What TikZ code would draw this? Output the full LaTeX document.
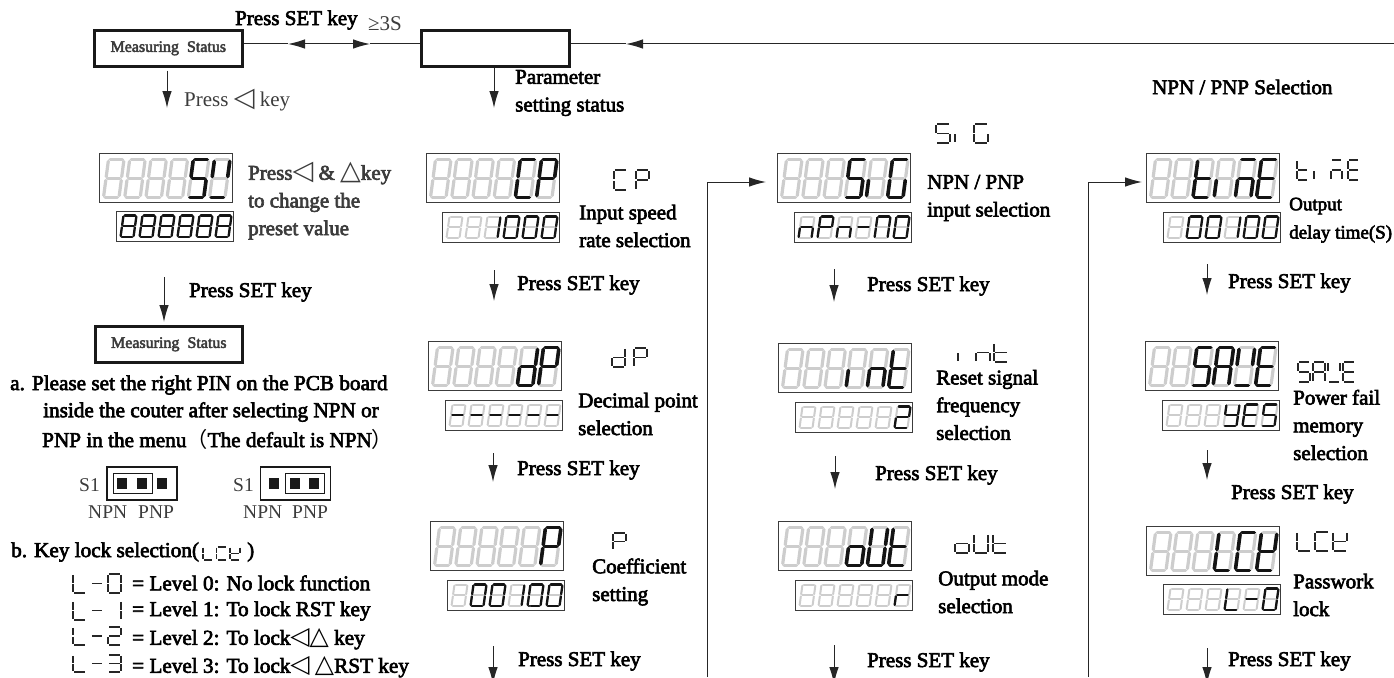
\documentclass[tikz,border=0pt]{standalone}
\usepackage{fontspec}
\usetikzlibrary{arrows.meta}
\setmainfont{Liberation Serif}
\newfontfamily\boldish[FakeBold=3]{Liberation Serif}
\newfontfamily\symfont{DejaVu Sans}
\newfontfamily\cjk{Noto Sans CJK SC}
\definecolor{segoff}{RGB}{205, 205, 205}
\definecolor{segon}{RGB}{20, 20, 20}
\definecolor{inkgray}{RGB}{60, 60, 60}
\tikzset{
    flow/.style={draw=black!85, line width=1pt, -{Latex[length=17pt,width=9.5pt]}},
    plain/.style={draw=black!85, line width=1pt},
    statebox/.style={draw=black!90, line width=2.6pt, minimum width=148pt, minimum height=36pt, inner sep=0pt, anchor=north west},
    bigbox/.style={draw=inkgray, line width=.9pt, minimum width=133pt, minimum height=49pt, inner sep=0pt, outer sep=0pt, anchor=north west},
    smallbox/.style={draw=inkgray, line width=.9pt, minimum width=117pt, minimum height=30pt, inner sep=0pt, outer sep=0pt, anchor=north west},
    txt/.style={inner sep=0pt, anchor=west, align=left, font=\fontsize{21}{27.7}\selectfont\boldish},
    txtgray/.style={txt, text=inkgray},
    note/.style={txt, font=\fontsize{21.2}{27}\selectfont\boldish},
    small/.style={inner sep=0pt, anchor=west, font=\fontsize{19}{22}\selectfont\boldish},
    plainlabel/.style={inner sep=0pt, anchor=west, text=inkgray, font=\fontsize{19.5}{22}\selectfont},
    statetext/.style={inner sep=0pt, text=inkgray, font=\fontsize{16}{18}\selectfont\boldish},
    pinsq/.style={fill=black!90, minimum width=10pt, minimum height=11pt, inner sep=0pt, outer sep=0pt},
    pinframe/.style={draw=black!90, line width=1.6pt, minimum width=70pt, minimum height=33pt, inner sep=0pt, outer sep=0pt},
    pinlink/.style={draw=black!90, line width=1pt, minimum width=39pt, minimum height=20pt, inner sep=0pt, outer sep=0pt},
}
% segments of one digit, unit square
\newcommand{\defseg}[5]{\expandafter\def\csname seg#1\endcsname{(#2,#3)--(#4,#5)}}
\defseg{a}{.1}{1}{.9}{1}
\defseg{b}{1}{.95}{1}{.55}
\defseg{c}{1}{.45}{1}{.05}
\defseg{d}{.1}{0}{.9}{0}
\defseg{e}{0}{.45}{0}{.05}
\defseg{f}{0}{.95}{0}{.55}
\defseg{g}{.1}{.5}{.9}{.5}
\def\segx{}
% glyphs
\def\dgx{x}       \def\dgm{g}        \def\dgall{a,b,c,d,e,f,g}
\def\dgz{a,b,c,d,e,f} \def\dgone{b,c} \def\dgtwo{a,b,g,e,d} \def\dgthree{a,b,g,c,d}
\def\dgS{a,f,g,c,d} \def\dgV{b,f,d}  \def\dgC{a,f,e,d}  \def\dgP{a,b,g,f,e}
\def\dgdd{b,c,d,e,g} \def\dgi{e}     \def\dgG{a,f,e,d,c} \def\dgn{e,g,c}
\def\dgt{f,g,e,d}  \def\dgo{g,e,c,d} \def\dgr{e,g}       \def\dgA{a,b,c,e,f,g}
\def\dgE{a,f,g,e,d} \def\dgM{a,g,e,c} \def\dgY{f,g,b,c,d} \def\dgL{f,e,d}
\def\dgN{a,b,c,e,f} \def\dgU{b,c,d,e,f} \def\dgk{f,b,g,e,d}
% x, bottom y, width, height, slant, glyph, style
\newcommand{\segdigit}[7]{%
    \edef\seglist{\csname dg#6\endcsname}%
    \begin{scope}[shift={(#1,#2)},x={(#3pt,0pt)},y={(#5pt,#4pt)}]
        \foreach \s in \seglist {\edef\segpath{\csname seg\s\endcsname}\draw[#7] \segpath;}
    \end{scope}%
}
\newcommand{\segrow}[8]{% x, bottom y, width, height, slant, pitch, off style, on style + list in \rowlist
    \foreach \g [count=\i from 0] in \rowlist {
        \pgfmathsetmacro{\digx}{#1+\i*#6}
        \segdigit{\digx}{#2}{#3}{#4}{#5}{all}{#7}
        \segdigit{\digx}{#2}{#3}{#4}{#5}{\g}{#8}
    }%
}
\newcommand{\bigdisp}[4]{% name, left, top, glyphs
    \node[bigbox] (#1) at (#2,#3) {};
    \def\rowlist{#4}
    \pgfmathsetmacro{\rowx}{#2+4.5}\pgfmathsetmacro{\rowy}{#3+44.5}
    \segrow{\rowx}{\rowy}{15.5}{38}{5}{21.2}{draw=segoff,line width=3.2pt,line cap=round}{draw=segon,line width=3.6pt,line cap=round}
}
\newcommand{\smalldisp}[4]{% name, left, top, glyphs
    \node[smallbox] (#1) at (#2,#3) {};
    \def\rowlist{#4}
    \pgfmathsetmacro{\rowx}{#2+4.5}\pgfmathsetmacro{\rowy}{#3+26}
    \segrow{\rowx}{\rowy}{13}{21.5}{3}{19}{draw=segoff,line width=2pt,line cap=round}{draw=segon,line width=2.3pt,line cap=round}
}
\newcommand{\seglabel}[6]{% x, bottom y, width, height, pitch, glyphs
    \foreach \g [count=\i from 0] in {#6} {
        \pgfmathsetmacro{\digx}{#1+\i*#5}
        \segdigit{\digx}{#2}{#3}{#4}{0}{\g}{draw=black!85,line width=1.8pt}
    }%
}
\newcommand{\lefttri}{{\symfont\fontsize{27}{24}\selectfont ◁}}
\newcommand{\uptri}{{\symfont\fontsize{27}{24}\selectfont △}}
\newcommand{\lefttrismall}{{\symfont\fontsize{25}{21}\selectfont ◁}}
\newcommand{\uptrismall}{{\symfont\fontsize{25}{21}\selectfont △}}

\begin{document}
\begin{tikzpicture}[x=1pt,y=-1pt]
    % Frame, reference size:
    \useasboundingbox (0,0) rectangle (1394,677);
    \clip (0,0) rectangle (1394,677);

    % state boxes
    \node[statebox] (measure) at (93,29) {};
    \node[statetext] at (measure.center) {Measuring\ \ Status};
    \node[statebox] (param) at (420,29) {};
    \node[statebox,minimum width=147pt] (measureb) at (94,325) {};
    \node[statetext] at (measureb.center) {Measuring\ \ Status};

    \coordinate (farright) at (1394,44);
    \coordinate (tipback) at (626,44);
    \coordinate (tipleft) at (288,44);
    \coordinate (tipright) at (370,44);
    \coordinate (tipmid) at (329,44);
    \draw[flow] (farright) -- (tipback);
    \draw[plain] (tipback) -- (tipback -| param.east);
    \draw[flow] (tipmid) -- (tipleft);
    \draw[flow] (tipmid) -- (tipright);
    \draw[plain] (tipleft -| measure.east) -- (tipleft);
    \draw[plain] (tipright) -- (tipright -| param.west);

    \node[txt] (presslong) at (235,20) {Press SET key};
    \node[plainlabel,font=\fontsize{21}{24}\selectfont] (threes) at (368,24) {≥3S};
    \node[txt] (paramlabel) at (515,93) {Parameter\\setting status};
    \node[txt] (selectlabel) at (1152,87) {NPN / PNP Selection};

    % left column
    \coordinate (mdown) at (167,108);
    \draw[flow] (mdown |- measure.south) ++(0,3) -- (mdown);
    \node[plainlabel,font=\fontsize{21}{24}\selectfont] (pressleft) at (184,100) {Press \lefttri{} key};
    \bigdisp{svbig}{99}{153}{x,x,x,x,S,V}
    \smalldisp{svsmall}{116}{211}{all,all,all,all,all,all}
    \node[txtgray] (presstext) at (248,201) {Press\lefttri{} \& \uptri{}key\\to change the\\preset value};
    \coordinate (svdown) at (164,322);
    \coordinate (svtop) at (164,277);
    \draw[flow] (svtop) -- (svdown);
    \node[txt] (svpress) at (189,292) {Press SET key};

    \node[note] (notea) at (10,385) {a. Please set the right PIN on the PCB board};
    \node[note] (noteb) at (43,412) {inside the couter after selecting NPN or};
    \node[note] (notec) at (42,439) {PNP in the menu{\cjk（}The default is NPN{\cjk）}};

    % jumpers
    \node[plainlabel] (sone) at (79,485) {S1};
    \node[pinframe] (pina) at (142,483.5) {};
    \node[pinlink] (linka) at (132.5,483) {};
    \node[pinsq] at (122,483.5) {};
    \node[pinsq] at (142,483.5) {};
    \node[pinsq] at (162,483.5) {};
    \node[plainlabel] (npna) at (88,512) {NPN};
    \node[plainlabel] (pnpa) at (138,512) {PNP};
    \node[plainlabel] (stwo) at (233,485) {S1};
    \node[pinframe] (pinb) at (295.5,483.5) {};
    \node[pinlink] (linkb) at (305,483) {};
    \node[pinsq] at (274,483.5) {};
    \node[pinsq] at (295,483.5) {};
    \node[pinsq] at (314,483.5) {};
    \node[plainlabel] (npnb) at (243,512) {NPN};
    \node[plainlabel] (pnpb) at (292,512) {PNP};

    \node[note] (lockhead) at (11,552) {b. Key lock selection(};
    \seglabel{203}{560}{10}{13}{13.5}{L,C,k}
    \node[note] (lockend) at (247,552) {)};
    \seglabel{73}{593}{13}{19}{17.5}{L,m,z}
    \seglabel{73}{620}{13}{19}{17.5}{L,m,one}
    \seglabel{73}{645}{13}{18}{17.5}{L,m,two}
    \seglabel{73}{672}{13}{17}{17.5}{L,m,three}
    \node[note] (levela) at (132,583) {= Level 0: No lock function};
    \node[note] (levelb) at (132,611) {= Level 1: To lock RST key};
    \node[note] (levelc) at (132,639) {= Level 2: To lock\lefttrismall\uptrismall{} key};
    \node[note] (leveld) at (132,667) {= Level 3: To lock\lefttrismall{} \uptrismall RST key};

    % first column
    \coordinate (pdown) at (494,108);
    \draw[flow] (pdown |- param.south) -- (pdown);
    \bigdisp{cpbig}{426}{153}{x,x,x,x,C,P}
    \smalldisp{cpsmall}{442}{212}{x,x,one,z,z,z}
    \seglabel{614}{190}{13}{20}{22}{C,P}
    \node[txt] (cptext) at (579,226) {Input speed\\rate selection};
    \coordinate (cptop) at (494,270);
    \coordinate (cpdown) at (494,301);
    \draw[flow] (cptop) -- (cpdown);
    \node[txt] (cppress) at (517,285) {Press SET key};
    \bigdisp{dpbig}{428}{341}{x,x,x,x,dd,P}
    \smalldisp{dpsmall}{445}{400}{m,m,m,m,m,m}
    \seglabel{612}{367}{13}{19}{22}{dd,P}
    \node[txt] (dptext) at (578,414) {Decimal point\\selection};
    \coordinate (dptop) at (493,453);
    \coordinate (dpdown) at (493,482);
    \draw[flow] (dptop) -- (dpdown);
    \node[txt] (dppress) at (517,470) {Press SET key};
    \bigdisp{pbig}{430}{521}{x,x,x,x,x,P}
    \smalldisp{psmall}{447}{580}{x,z,z,one,z,z}
    \fill[black!70] (530,606) circle (1pt);
    \seglabel{613}{550}{13}{17}{22}{P}
    \node[txt] (ptext) at (592,582) {Coefficient\\setting};
    \coordinate (ptop) at (493,646);
    \coordinate (pend) at (493,684);
    \draw[flow] (ptop) -- (pend);
    \node[txt] (ppress) at (518,661) {Press SET key};

    % second column
    \coordinate (backa) at (707,677);
    \coordinate (cornera) at (707,182);
    \coordinate (tipa) at (766,182);
    \draw[flow] (backa) -- (cornera) -- (tipa);
    \bigdisp{sigbig}{777}{153}{x,x,x,S,i,G}
    \smalldisp{sigsmall}{794}{212}{n,P,n,m,N,z}
    \seglabel{936}{143}{14}{19}{19}{S,i,G}
    \node[txt] (sigtext) at (927,198) {NPN / PNP\\input selection};
    \coordinate (sigtop) at (834,269);
    \coordinate (sigdown) at (834,302);
    \draw[flow] (sigtop) -- (sigdown);
    \node[txt] (sigpress) at (867,286) {Press SET key};
    \bigdisp{intbig}{778}{343}{x,x,x,i,n,t}
    \smalldisp{intsmall}{795}{402}{x,x,x,x,x,two}
    \seglabel{958}{362}{14}{19}{18}{i,n,t}
    \node[txt] (inttext) at (936,405) {Reset signal\\frequency\\selection};
    \coordinate (inttop) at (835,456);
    \coordinate (intdown) at (835,489);
    \draw[flow] (inttop) -- (intdown);
    \node[txt] (intpress) at (875,475) {Press SET key};
    \bigdisp{outbig}{778}{521}{x,x,x,o,U,t}
    \smalldisp{outsmall}{795}{580}{x,x,x,x,x,r}
    \seglabel{955}{553}{14}{19}{19}{o,U,t}
    \node[txt] (outtext) at (938,592) {Output mode\\selection};
    \coordinate (outtop) at (834,645);
    \coordinate (outdown) at (834,684);
    \draw[flow] (outtop) -- (outdown);
    \node[txt] (outpress) at (867,662) {Press SET key};

    % third column
    \coordinate (backb) at (1088,677);
    \coordinate (cornerb) at (1088,182);
    \coordinate (tipb) at (1142,182);
    \draw[flow] (backb) -- (cornerb) -- (tipb);
    \bigdisp{timebig}{1146}{153}{x,x,t,i,M,E}
    \smalldisp{timesmall}{1163}{212}{x,z,z,one,z,z}
    \fill[black!70] (1246,238) circle (1pt);
    \seglabel{1297}{180}{11}{20}{17}{t,i,M,E}
    \node[small] (timetexta) at (1289,206) {Output};
    \node[small] (timetextb) at (1289,234) {delay time(S)};
    \coordinate (timetop) at (1207,264);
    \coordinate (timedown) at (1207,295);
    \draw[flow] (timetop) -- (timedown);
    \node[txt] (timepress) at (1228,283) {Press SET key};
    \bigdisp{savebig}{1145}{341}{x,x,S,A,V,E}
    \smalldisp{savesmall}{1162}{400}{x,x,x,Y,E,S}
    \seglabel{1298}{382}{12}{20}{15}{S,A,V,E}
    \node[txt] (savetext) at (1293,425) {Power fail\\memory\\selection};
    \coordinate (savetop) at (1207,450);
    \coordinate (savedown) at (1207,480);
    \draw[flow] (savetop) -- (savedown);
    \node[txt] (savepress) at (1231,494) {Press SET key};
    \bigdisp{lctbig}{1146}{526}{x,x,x,L,C,k}
    \smalldisp{lctsmall}{1163}{584}{x,x,x,L,m,z}
    \seglabel{1297}{551}{14}{19}{18}{L,C,k}
    \node[txt] (lcttext) at (1293,595) {Passwork\\lock};
    \coordinate (lcttop) at (1207,648);
    \coordinate (lctdown) at (1207,684);
    \draw[flow] (lcttop) -- (lctdown);
    \node[txt] (lctpress) at (1228,661) {Press SET key};
\end{tikzpicture}
\end{document}
